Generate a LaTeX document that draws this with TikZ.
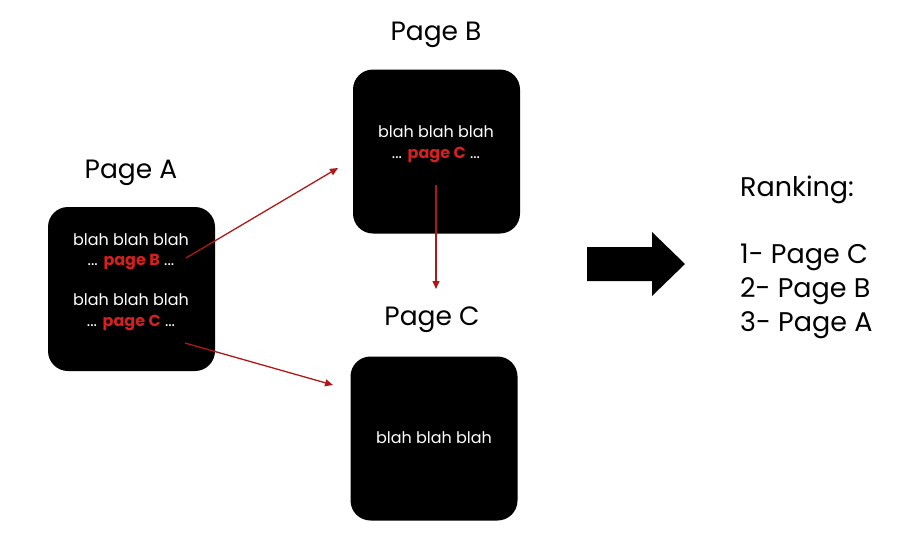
\documentclass[tikz,border=0pt]{standalone}
\usepackage{fontspec}
\setmainfont{Poppins}
\usetikzlibrary{arrows.meta}
\definecolor{linkred}{HTML}{B01818}
\definecolor{txtred}{HTML}{D42020}
\tikzset{
  pagebox/.style={fill=black,rounded corners=20pt,minimum width=167pt,minimum height=164pt,inner sep=0pt},
  title/.style={font=\fontsize{26.5}{30}\selectfont,text=black,inner sep=0pt},
  boxtext/.style={font=\fontsize{16}{19}\selectfont,text=white,inner sep=0pt},
  link/.style={draw=linkred,line width=1.3pt,-{Triangle[length=8pt,width=7pt]}},
  rank/.style={font=\fontsize{27}{30}\selectfont,anchor=west,inner sep=0pt}
}
\begin{document}
\begin{tikzpicture}[x=1pt,y=-1pt]
\useasboundingbox (0,0) rectangle (918,552);
% boxes
\node[pagebox] (A) at (131.5,289) {};
\node[pagebox] (B) at (436.5,151.5) {};
\node[pagebox] (C) at (434,438.5) {};
% titles
\node[title] (tA) at (131,173) {Page A};
\node[title] (tB) at (436,35) {Page B};
\node[title] (tC) at (432,320) {Page C};
% box texts
\node[boxtext] (a1) at (131,240) {blah blah blah};
\node[boxtext] (a2) at (131,262) {... \textcolor{txtred}{\textbf{page B}} ...};
\node[boxtext] (a3) at (131,300) {blah blah blah};
\node[boxtext] (a4) at (131,323) {... \textcolor{txtred}{\textbf{page C}} ...};
\node[boxtext] (b1) at (436,132) {blah blah blah};
\node[boxtext] (b2) at (436,155) {... \textcolor{txtred}{\textbf{page C}} ...};
\node[boxtext] (c1) at (434,438) {blah blah blah};
% connector endpoints
\coordinate (sAB) at (186,258);
\coordinate (eAB) at (338,168);
\coordinate (sAC) at (185,343);
\coordinate (eAC) at (333,385);
\coordinate (sBC) at (436,185);
\coordinate (eBC) at (436,289);
\draw[link] (sAB) -- (eAB);
\draw[link] (sAC) -- (eAC);
\draw[link] (sBC) -- (eBC);
% block arrow
\fill[black] (587,247) -- (652,247) -- (652,232) -- (685,264) -- (652,296) -- (652,281) -- (587,281) -- cycle;
% ranking
\node[rank] (r0) at (740,190) {Ranking:};
\node[rank] (r1) at (740,257) {1- Page C};
\node[rank] (r2) at (740,291) {2- Page B};
\node[rank] (r3) at (740,325) {3- Page A};
\end{tikzpicture}
\end{document}
